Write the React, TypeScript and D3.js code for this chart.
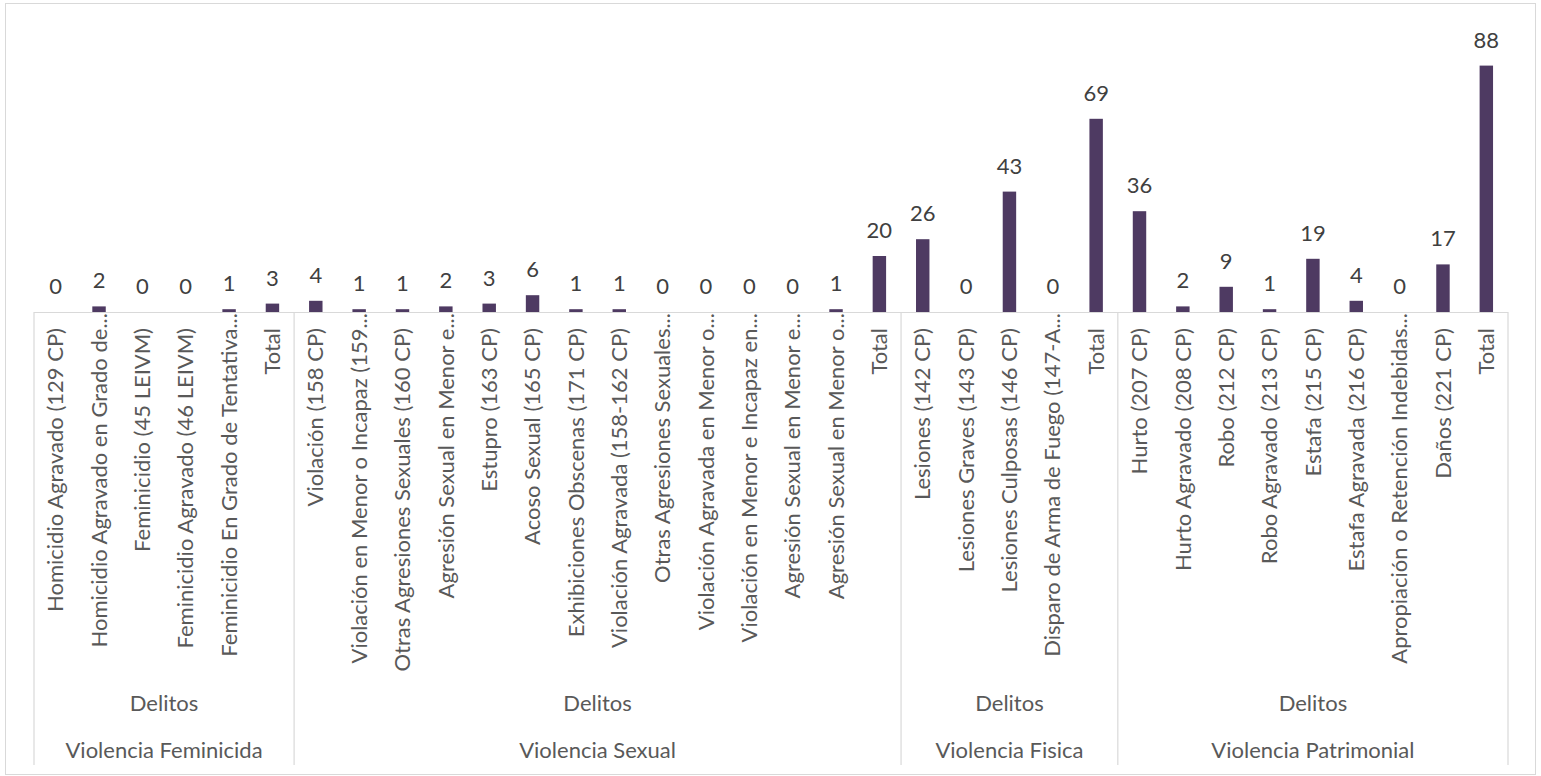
import React from "react";
import * as d3 from "d3";

const groupNames = ["Violencia Feminicida", "Violencia Sexual", "Violencia Fisica", "Violencia Patrimonial"];
const subLevel = "Delitos";

const feminicidaLabels = [
  "Homicidio Agravado (129 CP)",
  "Homicidio Agravado en Grado de...",
  "Feminicidio (45 LEIVM)",
  "Feminicidio Agravado (46 LEIVM)",
  "Feminicidio En Grado de Tentativa...",
  "Total",
];
const feminicidaValues = [0, 2, 0, 0, 1, 3];

const sexualLabels = [
  "Violación (158 CP)",
  "Violación en Menor o Incapaz (159...",
  "Otras Agresiones Sexuales (160 CP)",
  "Agresión Sexual en Menor e...",
  "Estupro (163 CP)",
  "Acoso Sexual (165 CP)",
  "Exhibiciones Obscenas (171 CP)",
  "Violación Agravada (158-162 CP)",
  "Otras Agresiones Sexuales...",
  "Violación Agravada en Menor o...",
  "Violación en Menor e Incapaz en...",
  "Agresión Sexual  en Menor e...",
  "Agresión Sexual  en Menor o...",
  "Total",
];
const sexualValues = [4, 1, 1, 2, 3, 6, 1, 1, 0, 0, 0, 0, 1, 20];

const fisicaLabels = [
  "Lesiones (142 CP)",
  "Lesiones Graves (143 CP)",
  "Lesiones Culposas (146 CP)",
  "Disparo de Arma de Fuego (147-A...",
  "Total",
];
const fisicaValues = [26, 0, 43, 0, 69];

const patrimonialLabels = [
  "Hurto (207 CP)",
  "Hurto Agravado (208 CP)",
  "Robo (212 CP)",
  "Robo Agravado (213 CP)",
  "Estafa (215 CP)",
  "Estafa Agravada (216 CP)",
  "Apropiación o Retención Indebidas...",
  "Daños (221 CP)",
  "Total",
];
const patrimonialValues = [36, 2, 9, 1, 19, 4, 0, 17, 88];

const groupLabels = [feminicidaLabels, sexualLabels, fisicaLabels, patrimonialLabels];
const groupValues = [feminicidaValues, sexualValues, fisicaValues, patrimonialValues];

type Row = { key: string; label: string; value: number; group: number };
const rows: Row[] = [];
groupLabels.forEach((labels, g) =>
  labels.forEach((label, i) =>
    rows.push({ key: `${g}-${i}`, label, value: groupValues[g][i], group: g })
  )
);

const W = 1541;
const H = 776;
const left = 34;
const right = 1508;
const baseY = 312;
const axisBottom = 765;
const textColor = "#595959";
const lineColor = "#d9d9d9";
const barColor = "#4e3a62";
const font = "Lato, 'Open Sans', sans-serif";
const fs = 22;

export default function App() {
  const x = d3
    .scaleBand<string>()
    .domain(rows.map((r) => r.key))
    .range([left, right])
    .paddingInner(0.69)
    .paddingOuter(0.345);
  const step = x.step();
  const y = d3.scaleLinear().domain([0, 100]).range([baseY, baseY - 280]);

  const bounds: { start: number; end: number; name: string }[] = [];
  let idx = 0;
  groupLabels.forEach((labels, g) => {
    const start = left + idx * step;
    idx += labels.length;
    const end = left + idx * step;
    bounds.push({ start, end, name: groupNames[g] });
  });
  const seps = [left, ...bounds.map((b) => b.end)];

  return (
    <svg
      width={W}
      height={H}
      style={{ position: "absolute", left: 0, top: 0, background: "#fff" }}
      fontFamily={font}
    >
      <rect x={5.5} y={3.5} width={1530} height={771} fill="#fff" stroke={lineColor} strokeWidth={1} />
      {rows.map((r) => {
        const bx = x(r.key)!;
        const top = y(r.value);
        const cx = bx + x.bandwidth() / 2;
        return (
          <g key={r.key}>
            {r.value > 0 && (
              <rect x={bx} y={top} width={x.bandwidth()} height={baseY - top} fill={barColor} />
            )}
            <text x={cx} y={top - 18} textAnchor="middle" fontSize={fs} fill="#404040">
              {r.value}
            </text>
            <text
              transform={`translate(${cx},${r.label.endsWith("...") ? 313 : 328}) rotate(-90)`}
              textAnchor="end"
              dy="0.35em"
              fontSize={fs}
              fill={textColor}
            >
              {r.label}
            </text>
          </g>
        );
      })}
      <line x1={left} x2={right} y1={baseY + 0.5} y2={baseY + 0.5} stroke={lineColor} strokeWidth={1.2} />
      {seps.map((s, i) => (
        <line key={i} x1={s} x2={s} y1={baseY} y2={axisBottom} stroke={lineColor} strokeWidth={1.2} />
      ))}
      {bounds.map((b, i) => (
        <g key={i}>
          <text x={(b.start + b.end) / 2} y={703} dy="0.35em" textAnchor="middle" fontSize={fs} fill={textColor}>
            {subLevel}
          </text>
          <text x={(b.start + b.end) / 2} y={750} dy="0.35em" textAnchor="middle" fontSize={fs} fill={textColor}>
            {b.name}
          </text>
        </g>
      ))}
    </svg>
  );
}
